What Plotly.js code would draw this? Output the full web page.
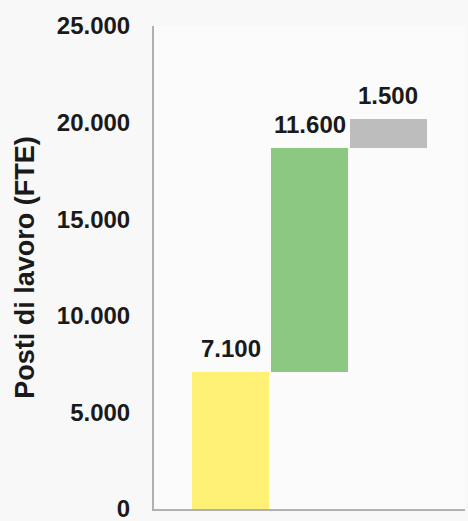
<!DOCTYPE html>
<html>
<head>
<meta charset="utf-8">
<script src="https://cdn.plot.ly/plotly-3.0.1.min.js"></script>
<style>html,body{margin:0;padding:0;background:#f8f8f8;}#chart{width:468px;height:521px;}</style>
</head>
<body>
<div id="chart"></div>
<script>
// Data
const categories = ["A", "B", "C"];
const values = [7100, 11600, 1500];
const labels = ["7.100", "11.600", "1.500"];
const colors = ["#FFF176", "#8DC883", "#BDBDBD"];
const yTickVals = [0, 5000, 10000, 15000, 20000, 25000];
const yTickText = ["0", "5.000", "10.000", "15.000", "20.000", "25.000"];

// cumulative bases for waterfall-style bars
const bases = [];
let run = 0;
for (let i = 0; i < values.length; i++) { bases.push(run); run += values[i]; }
const xs = categories.map((c, i) => i);

const trace = {
  type: "bar",
  x: xs,
  y: values,
  base: bases,
  width: 0.97,
  marker: { color: colors, line: { width: 0 } },
  hoverinfo: "skip"
};

const annotations = xs.map((x, i) => ({
  x: x, y: bases[i] + values[i], xref: "x", yref: "y",
  text: labels[i], showarrow: false, yanchor: "bottom", yshift: 8,
  font: { family: "Liberation Sans, Arial, sans-serif", size: 24, color: "#1a1a1a", weight: "bold" }
}));

const layout = {
  width: 468, height: 521,
  margin: { l: 154, r: 3, t: 26, b: 12 },
  paper_bgcolor: "#f8f8f8",
  plot_bgcolor: "#fbfbfb",
  showlegend: false,
  bargap: 0,
  font: { family: "Liberation Sans, Arial, sans-serif", color: "#1a1a1a" },
  xaxis: {
    range: [-0.97, 2.97], showticklabels: false, showgrid: false, zeroline: false,
    showline: true, linecolor: "#b0b0b0", linewidth: 2, ticks: ""
  },
  yaxis: {
    range: [0, 25000], tickvals: yTickVals, ticktext: yTickText,
    showgrid: false, zeroline: false, showline: true, linecolor: "#b0b0b0", linewidth: 2,
    ticks: "outside", ticklen: 17, tickcolor: "rgba(0,0,0,0)",
    ticklabeloverflow: "allow",
    tickfont: { size: 24, weight: "bold", color: "#1a1a1a" },
    title: { text: "Posti di lavoro (FTE)", standoff: 14, font: { size: 27, weight: "bold", color: "#1a1a1a" } }
  },
  annotations: annotations
};

Plotly.newPlot("chart", [trace], layout, { displayModeBar: false, staticPlot: true });
</script>
</body>
</html>
